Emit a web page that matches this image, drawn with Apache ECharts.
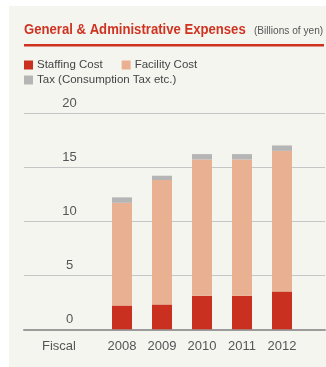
<!DOCTYPE html>
<html>
<head>
<meta charset="utf-8">
<script src="https://cdn.jsdelivr.net/npm/echarts@6/dist/echarts.min.js"></script>
<style>
  html, body { margin: 0; padding: 0; background: #ffffff; }
  #chart { width: 326px; height: 367px; }
</style>
</head>
<body>
<div id="chart"></div>
<script>
// General & administrative expenses by fiscal year (billions of yen)
const years = ['2008', '2009', '2010', '2011', '2012'];
const staffingCost = [2.2, 2.3, 3.1, 3.1, 3.5];
const facilityCost = [9.5, 11.5, 12.6, 12.6, 13.0];
const taxCost = [0.5, 0.4, 0.5, 0.5, 0.5];
const yTicks = { min: 0, max: 20, interval: 5 };

const seriesNames = ['Staffing Cost', 'Facility Cost', 'Tax (Consumption Tax etc.)'];
const colors = ['#c9301f', '#e9b092', '#b5b5b5'];

const FONT = '"Liberation Sans", Arial, Helvetica, sans-serif';

const plotTop = 113;
const plotHeight = 216.3;

const chart = echarts.init(document.getElementById('chart'), null, { renderer: 'canvas' });

chart.setOption({
  backgroundColor: '#ffffff',
  animation: false,
  graphic: [
    { type: 'rect', z: -10, shape: { x: 9, y: 6, width: 317, height: 361 }, style: { fill: '#f5f5f0' } },
    // heading set in a horizontally condensed bold face
    { type: 'text', x: 24, y: 29.5, scaleX: 0.905,
      style: { x: 0, y: 0, text: 'General & Administrative Expenses', fill: '#cf3320',
        font: 'bold 14.5px ' + FONT, textVerticalAlign: 'middle' } },
    { type: 'text', x: 254, y: 30.5, scaleX: 0.92,
      style: { x: 0, y: 0, text: '(Billions of yen)', fill: '#555555',
        font: '11px ' + FONT, textVerticalAlign: 'middle' } },
    { type: 'rect', shape: { x: 24, y: 44, width: 300, height: 2.5 }, style: { fill: '#d0321f' } },
    { type: 'text', style: { x: 59, y: 346.5, text: 'Fiscal', fill: '#555555',
        font: '13px ' + FONT, textAlign: 'center', textVerticalAlign: 'middle' } }
  ],
  legend: [
    { data: [seriesNames[0], seriesNames[1]], left: 24, top: 59, padding: 0, itemGap: 19,
      itemWidth: 9, itemHeight: 9, icon: 'rect',
      textStyle: { fontSize: 11.5, color: '#444444', fontFamily: FONT, padding: [0, 0, 0, -1] } },
    { data: [seriesNames[2]], left: 24, top: 74, padding: 0,
      itemWidth: 9, itemHeight: 9, icon: 'rect',
      textStyle: { fontSize: 11.5, color: '#444444', fontFamily: FONT, padding: [0, 0, 0, -1] } }
  ],
  grid: [
    // full-width grid carrying the gridlines, value labels and baseline
    { left: 24, right: 1, top: plotTop, height: plotHeight },
    // grid holding the bars
    { left: 102, width: 200, top: plotTop, height: plotHeight }
  ],
  xAxis: [
    { gridIndex: 0, type: 'value', min: 0, max: 1, axisLabel: { show: false }, axisTick: { show: false },
      splitLine: { show: false }, axisLine: { show: true, lineStyle: { color: '#9c9c9c', width: 2 } } },
    { gridIndex: 1, type: 'category', data: years, axisTick: { show: false },
      axisLine: { show: false },
      axisLabel: { margin: 11, fontSize: 13, color: '#555555', fontFamily: FONT } }
  ],
  yAxis: [
    { gridIndex: 0, type: 'value', min: yTicks.min, max: yTicks.max, interval: yTicks.interval,
      axisLine: { show: false }, axisTick: { show: false },
      splitLine: { show: true, lineStyle: { color: '#c6c6c6', width: 1 } },
      axisLabel: { margin: -45.5, align: 'center', verticalAlign: 'bottom', padding: [0, 0, 3, 0],
        fontSize: 13, color: '#555555', fontFamily: FONT } },
    { gridIndex: 1, type: 'value', min: yTicks.min, max: yTicks.max, interval: yTicks.interval,
      show: false }
  ],
  series: [
    { name: seriesNames[0], type: 'bar', stack: 'total', xAxisIndex: 1, yAxisIndex: 1,
      data: staffingCost, barWidth: 20, itemStyle: { color: colors[0] } },
    { name: seriesNames[1], type: 'bar', stack: 'total', xAxisIndex: 1, yAxisIndex: 1,
      data: facilityCost, barWidth: 20, itemStyle: { color: colors[1] } },
    { name: seriesNames[2], type: 'bar', stack: 'total', xAxisIndex: 1, yAxisIndex: 1,
      data: taxCost, barWidth: 20, itemStyle: { color: colors[2] } }
  ]
});
</script>
</body>
</html>
